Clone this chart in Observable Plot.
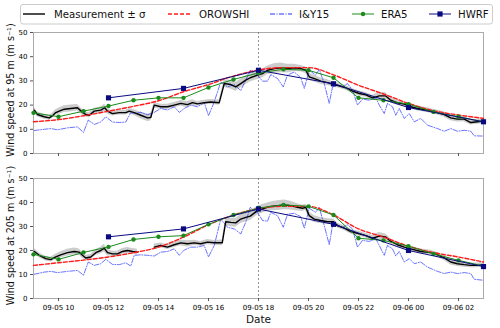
<!DOCTYPE html>
<html><head><meta charset="utf-8">
<script src="https://cdn.jsdelivr.net/npm/d3@7"></script>
<script src="https://cdn.jsdelivr.net/npm/@observablehq/plot@0.6"></script>
<style>
body{margin:0;background:#fff;font-family:"DejaVu Sans",sans-serif;}
#wrap{position:relative;width:500px;height:328px;overflow:hidden;}
#wrap > *{position:absolute;left:0;}
</style></head>
<body><div id="wrap"></div>
<script>
// hours since 09-05 00:00
const tickHours = [10,12,14,16,18,20,22,24,26];
const seriesNames = ["Measurement ± σ","OROWSHI","I&Y15","ERA5","HWRF"];
const panelLabels = ["Wind speed at 95 m (m s⁻¹)","Wind speed at 205 m (m s⁻¹)"];

const era5Hours = [9,10,11,12,13,14,15,16,17,18,19,20,21,22,23,24,25,26,27];
const era5_95  = [16.8,15.2,17.5,19.6,22.0,23.0,23.0,27.3,30.6,33.3,34.8,34.4,31.3,23.0,22.0,20.4,17.2,15.2,13.1];
const era5_205 = [18.4,16.3,19.2,21.5,24.6,25.7,26.2,30.9,34.8,37.7,39.0,38.4,34.8,25.1,24.2,21.8,18.6,15.9,13.5];

const hwrfHours = [12,15,18,21,24,27];
const hwrf_95  = [23.0,26.9,34.4,28.8,19.0,13.1];
const hwrf_205 = [25.7,29.0,37.3,30.9,20.0,13.3];

const oroHours = [9,10,11,12,13,14,15,16,17,18,19,20,21,22,23,24,25,26,27];
const oro_95  = [13.1,14.0,15.6,17.5,19.5,21.8,25.5,28.5,32.0,34.5,35.5,35.5,32.5,28.2,24.6,20.7,17.7,15.9,14.5];
const oro_205 = [13.8,14.9,16.0,17.3,19.1,21.4,25.6,30.7,34.8,37.5,38.4,38.4,34.8,29.0,25.6,21.8,19.1,17.3,15.2];

// [hour, speed]
const iy_95 = [[9.03,9.5],[9.43,10],[9.69,10.3],[9.96,9.8],[10.36,10.6],[10.76,11],[11.0,8.7],[11.19,13.8],[11.43,12],[11.69,13],[11.89,15.2],[12.16,13],[12.43,12.8],[12.69,13],[12.89,16.9],[13.03,16.5],[13.29,17],[13.56,16],[13.83,17],[14.09,18.6],[14.36,18],[14.63,19.3],[14.83,17],[15.03,18.6],[15.29,20],[15.56,19.3],[15.83,21],[16.0,15.6],[16.23,21.3],[16.49,29.6],[16.76,27.5],[17.03,28.5],[17.29,26],[17.49,30.3],[17.67,34.4],[17.83,33.0],[17.96,32.4],[18.16,29.9],[18.36,29.9],[18.49,32.6],[18.76,31],[18.99,27.5],[19.16,32.4],[19.43,33.7],[19.69,31.3],[19.83,26.9],[20.03,34.4],[20.29,32.4],[20.43,34.8],[20.63,28.9],[20.83,20.7],[20.96,27.5],[21.16,28.2],[21.36,27.5],[21.56,28.9],[21.76,26.2],[21.96,20],[22.16,22.5],[22.43,22],[22.69,23],[22.83,20],[23.03,16.5],[23.16,20.7],[23.36,19.3],[23.49,15.8],[23.63,18.6],[23.83,14.5],[24.03,16.5],[24.23,13.1],[24.49,14.5],[24.76,11.7],[25.16,10.3],[25.43,9.2],[25.69,10.3],[25.96,9.2],[26.23,9.6],[26.49,9.2],[26.63,7.3],[27.0,7.2]];
const iy_205 = [[9.03,10.1],[9.43,11],[9.69,11.3],[9.96,10.8],[10.36,11.3],[10.76,11.7],[11.0,9.7],[11.19,15.2],[11.43,13.8],[11.69,14.5],[11.89,16.3],[12.16,14.2],[12.43,14.1],[12.69,14.9],[12.89,13.5],[13.03,18],[13.29,18.2],[13.56,18],[13.83,17.7],[14.09,19.3],[14.36,19.6],[14.63,20.7],[14.83,18],[15.03,20.2],[15.29,21.4],[15.56,21.4],[15.83,22.1],[16.0,17.3],[16.23,22.1],[16.49,33.1],[16.76,29.7],[17.03,29],[17.29,26.9],[17.49,31.8],[17.67,38],[17.83,36.6],[17.96,35.9],[18.16,32.5],[18.36,32.2],[18.49,35.9],[18.76,34.5],[18.99,29.7],[19.16,35.1],[19.43,35.5],[19.69,34.1],[19.83,29.3],[20.03,37.6],[20.29,35.9],[20.43,38],[20.63,30.4],[20.83,22.4],[20.96,30.4],[21.16,30.7],[21.36,29.7],[21.56,30.7],[21.76,29],[21.96,21.4],[22.16,24.2],[22.43,23.8],[22.69,24.9],[22.83,22.1],[23.03,18],[23.16,22.1],[23.36,20.7],[23.49,17.7],[23.63,19.6],[23.83,15.2],[24.03,16.6],[24.23,14.5],[24.49,15.2],[24.76,13.1],[25.16,11.3],[25.43,10.4],[25.69,11],[25.96,10.4],[26.23,10.8],[26.49,10.4],[26.63,8],[27.0,7.6]];

// [hour, mean, sigma]
const meas_95 = [[9.03,17.9,1.2],[9.16,16.1,1],[9.43,15.2,1],[9.63,14.7,1],[9.76,15.6,1],[9.89,16.9,1.2],[10.03,17.5,1.3],[10.23,18.3,1.4],[10.49,18.6,1.4],[10.76,18.9,1.3],[10.96,17,1.2],[11.09,16.1,1],[11.23,15.8,1],[11.43,17.5,1.2],[11.69,17.9,1.3],[11.85,18.9,1.5],[11.96,17.5,1.2],[12.16,16.5,1],[12.43,16.9,1],[12.69,16.9,1],[12.83,17.5,1.1],[13.03,16.9,1.2],[13.29,15.8,1.4],[13.56,14.7,1.5],[13.69,14.9,1.5],[13.83,20,1.2],[14.09,19.3,1],[14.36,19.3,1],[14.63,20,1.1],[14.89,20.7,1.2],[15.16,20.2,1.3],[15.36,21,1.2],[15.56,20.5,1],[15.83,21,1],[16.09,21.3,1],[16.43,21,1.1],[16.63,28.9,1.6],[16.89,28.5,1.8],[17.09,27.5,1.8],[17.29,28.9,1.8],[17.49,30.3,1.8],[17.67,31.3,1.8],[17.96,32.4,1.8],[18.16,33,1.8],[18.36,34.4,1.8],[18.63,35.1,2],[18.89,35.4,2],[19.16,35.1,1.8],[19.43,35.4,1.5],[19.69,35.1,1.3],[19.89,34.4,1.3],[20.03,31.7,1.5],[20.29,30.7,1.4],[20.49,29.9,1.3],[20.76,29.3,1.2],[21.0,28.5,1],[21.23,28,1],[21.49,27.1,1],[21.76,25.8,1],[22.03,24.8,1],[22.29,24.2,1],[22.56,23,1.1],[22.83,23.8,1.5],[23.09,23.8,1.3],[23.29,22,1],[23.56,20.9,1],[23.83,20.4,1],[24.09,19.3,1],[24.36,18.6,1],[24.76,17.9,1],[25.16,16.9,1],[25.43,16.1,1.1],[25.69,14.7,1.2],[25.96,14.2,1.2],[26.23,14.2,1.1],[26.49,12.8,1],[26.76,13.1,1],[27.0,13.4,1]];
const meas_205 = [[9.03,19.6,1.2],[9.23,18,1],[9.49,16.6,1],[9.69,16.2,1],[9.89,17.3,1.1],[10.09,18.2,1.3],[10.36,19.1,1.4],[10.63,19.6,1.4],[10.83,19.3,1.3],[10.96,18,1.2],[11.09,16.9,1],[11.29,17.3,1],[11.49,19.1,1.3],[11.69,20,1.4],[11.83,21,1.6],[11.96,19.1,1.3],[12.16,18.6,1.1],[12.36,18.6,1.1],[12.56,19.6,1.2],[12.76,20,1.2],[12.96,19.6,1.2],[13.16,19.3,1.2],[13.5,null,null],[13.83,21.4,1.3],[14.09,22.1,1],[14.36,21.4,1],[14.63,22.4,1.1],[14.89,23.2,1.2],[15.16,22.8,1.3],[15.43,23.2,1.1],[15.69,22.8,1],[15.96,23.5,1.1],[16.23,23.2,1],[16.55,23.2,1.2],[16.69,32,1.6],[16.89,31.7,1.8],[17.09,31.5,1.8],[17.29,33.1,1.8],[17.49,33.8,1.8],[17.67,34.3,1.8],[17.96,36.6,1.8],[18.23,37.6,1.8],[18.49,38.4,1.8],[18.76,38.7,2],[19.03,39,2],[19.29,38.7,1.8],[19.56,38,1.5],[19.76,37.6,1.3],[19.89,38,1.3],[20.03,34.5,1.5],[20.23,33.1,1.4],[20.49,32.5,1.3],[20.76,32,1.2],[21.0,32,1.1],[21.16,30.4,1],[21.43,29.3,1],[21.69,27.9,1],[22.03,26.9,1],[22.29,26.2,1],[22.56,25.1,1.1],[22.83,26,1.5],[23.09,25.6,1.3],[23.29,23.8,1],[23.56,22.4,1],[23.83,21.4,1],[24.09,20.7,1],[24.49,19.6,1],[24.89,19.1,1],[25.16,18.2,1],[25.43,16.9,1.1],[25.69,15.2,1.2],[25.96,14.5,1.2],[26.23,14.1,1.1],[26.49,13.8,1],[26.76,13.8,1],[27.0,14.1,1]];

const t0 = Date.UTC(2020, 8, 5);
const T = h => new Date(t0 + h * 3600e3);
const fmt = d3.utcFormat("%m-%d %H");
const C = {meas:"#000000", oro:"#ff1a1a", iy:"#2233ff", era:"#1a8a1a", hwrf:"#0a0a80"};

function panel(o) {
  const {meas, iy, oro, era, hwrf, label, showX, height, mt, mb} = o;
  const pair = (hs, vs) => hs.map((h, i) => [h, vs[i]]);
  return Plot.plot({
    width: 500, height, marginLeft: 33, marginRight: 17, marginTop: mt, marginBottom: mb,
    style: {fontFamily: "DejaVu Sans, sans-serif", background: "transparent", overflow: "visible"},
    x: {type: "utc", domain: [T(9), T(27)]},
    y: {domain: [0, 50]},
    marks: [
      Plot.frame({stroke: "#aaa", strokeWidth: 1}),
      Plot.axisY({ticks: [0,10,20,30,40,50], tickSize: 3, tickPadding: 3, fontSize: 7, label: null, stroke: "#555"}),
      Plot.axisX({ticks: tickHours.map(T), tickSize: 3, tickPadding: 4, fontSize: 7, label: null,
        tickFormat: showX ? fmt : () => "", stroke: "#555"}),
      Plot.text([label], {frameAnchor: "left", textAnchor: "middle", lineAnchor: "middle", rotate: -90, dx: -23, dy: -3, fontSize: 9.6, text: d => d, fill: "#111"}),
      showX ? Plot.text(["Date"], {frameAnchor: "bottom", textAnchor: "middle", lineAnchor: "middle", dy: 21, fontSize: 10.5, text: d => d, fill: "#111"}) : null,
      Plot.ruleX([T(18)], {stroke: "#777", strokeWidth: 0.8, strokeDasharray: "2,2"}),
      Plot.areaY(meas, {x: d => T(d[0]), y1: d => d[1] == null ? NaN : d[1] - d[2], y2: d => d[1] == null ? NaN : d[1] + d[2], fill: "#999", fillOpacity: 0.5}),
      Plot.line(iy, {x: d => T(d[0]), y: d => d[1], stroke: C.iy, strokeWidth: 0.8, strokeOpacity: 0.85, strokeDasharray: "5,1.5,1,1.5"}),
      Plot.line(meas, {x: d => T(d[0]), y: d => d[1] == null ? NaN : d[1], stroke: C.meas, strokeWidth: 1.4}),
      Plot.line(pair(oroHours, oro), {x: d => T(d[0]), y: d => d[1], stroke: C.oro, strokeWidth: 1.4, strokeDasharray: "4,2", curve: "monotone-x"}),
      Plot.line(pair(era5Hours, era), {x: d => T(d[0]), y: d => d[1], stroke: C.era, strokeWidth: 1}),
      Plot.dot(pair(era5Hours, era), {x: d => T(d[0]), y: d => d[1], r: 2.2, fill: C.era}),
      Plot.line(pair(hwrfHours, hwrf), {x: d => T(d[0]), y: d => d[1], stroke: C.hwrf, strokeWidth: 1}),
      Plot.dot(pair(hwrfHours, hwrf), {x: d => T(d[0]), y: d => d[1], r: 2.9, symbol: "square", fill: C.hwrf})
    ]
  });
}

const wrap = document.getElementById("wrap");

// legend
const lg = d3.create("svg").attr("width", 500).attr("height", 28).style("top", "0px")
  .style("font-family", "DejaVu Sans, sans-serif");
lg.append("rect").attr("x", 20.5).attr("y", 4.5).attr("width", 472).attr("height", 19.5)
  .attr("rx", 2.5).attr("fill", "white").attr("stroke", "#ccc");
const items = [
  {name: seriesNames[0], x: 23, tx: 54, color: C.meas, dash: null, w: 1.4},
  {name: seriesNames[1], x: 168, tx: 199, color: C.oro, dash: "4,2", w: 1.4},
  {name: seriesNames[2], x: 270, tx: 299, color: C.iy, dash: "5,1.5,1,1.5", w: 1},
  {name: seriesNames[3], x: 352, tx: 381, color: C.era, dash: null, w: 1, marker: "circle"},
  {name: seriesNames[4], x: 429, tx: 458, color: C.hwrf, dash: null, w: 1, marker: "square"}
];
items.forEach(it => {
  const len = 22, y = 14;
  lg.append("line").attr("x1", it.x).attr("x2", it.x + len).attr("y1", y).attr("y2", y)
    .attr("stroke", it.color).attr("stroke-width", it.w).attr("stroke-dasharray", it.dash);
  if (it.marker === "circle") lg.append("circle").attr("cx", it.x + len/2).attr("cy", y).attr("r", 2.2).attr("fill", it.color);
  if (it.marker === "square") lg.append("rect").attr("x", it.x + len/2 - 2.6).attr("y", y - 2.6).attr("width", 5.2).attr("height", 5.2).attr("fill", it.color);
  lg.append("text").attr("x", it.tx).attr("y", y).attr("dy", "0.35em").attr("font-size", 10.2).attr("fill", "#111").text(it.name);
});
wrap.appendChild(lg.node());

const p1 = panel({meas: meas_95, iy: iy_95, oro: oro_95, era: era5_95, hwrf: hwrf_95, label: panelLabels[0], showX: false, height: 143, mt: 16, mb: 6});
p1.style.top = "16px";
wrap.appendChild(p1);
const p2 = panel({meas: meas_205, iy: iy_205, oro: oro_205, era: era5_205, hwrf: hwrf_205, label: panelLabels[1], showX: true, height: 168, mt: 18, mb: 30});
p2.style.top = "160px";
wrap.appendChild(p2);
</script></body></html>
